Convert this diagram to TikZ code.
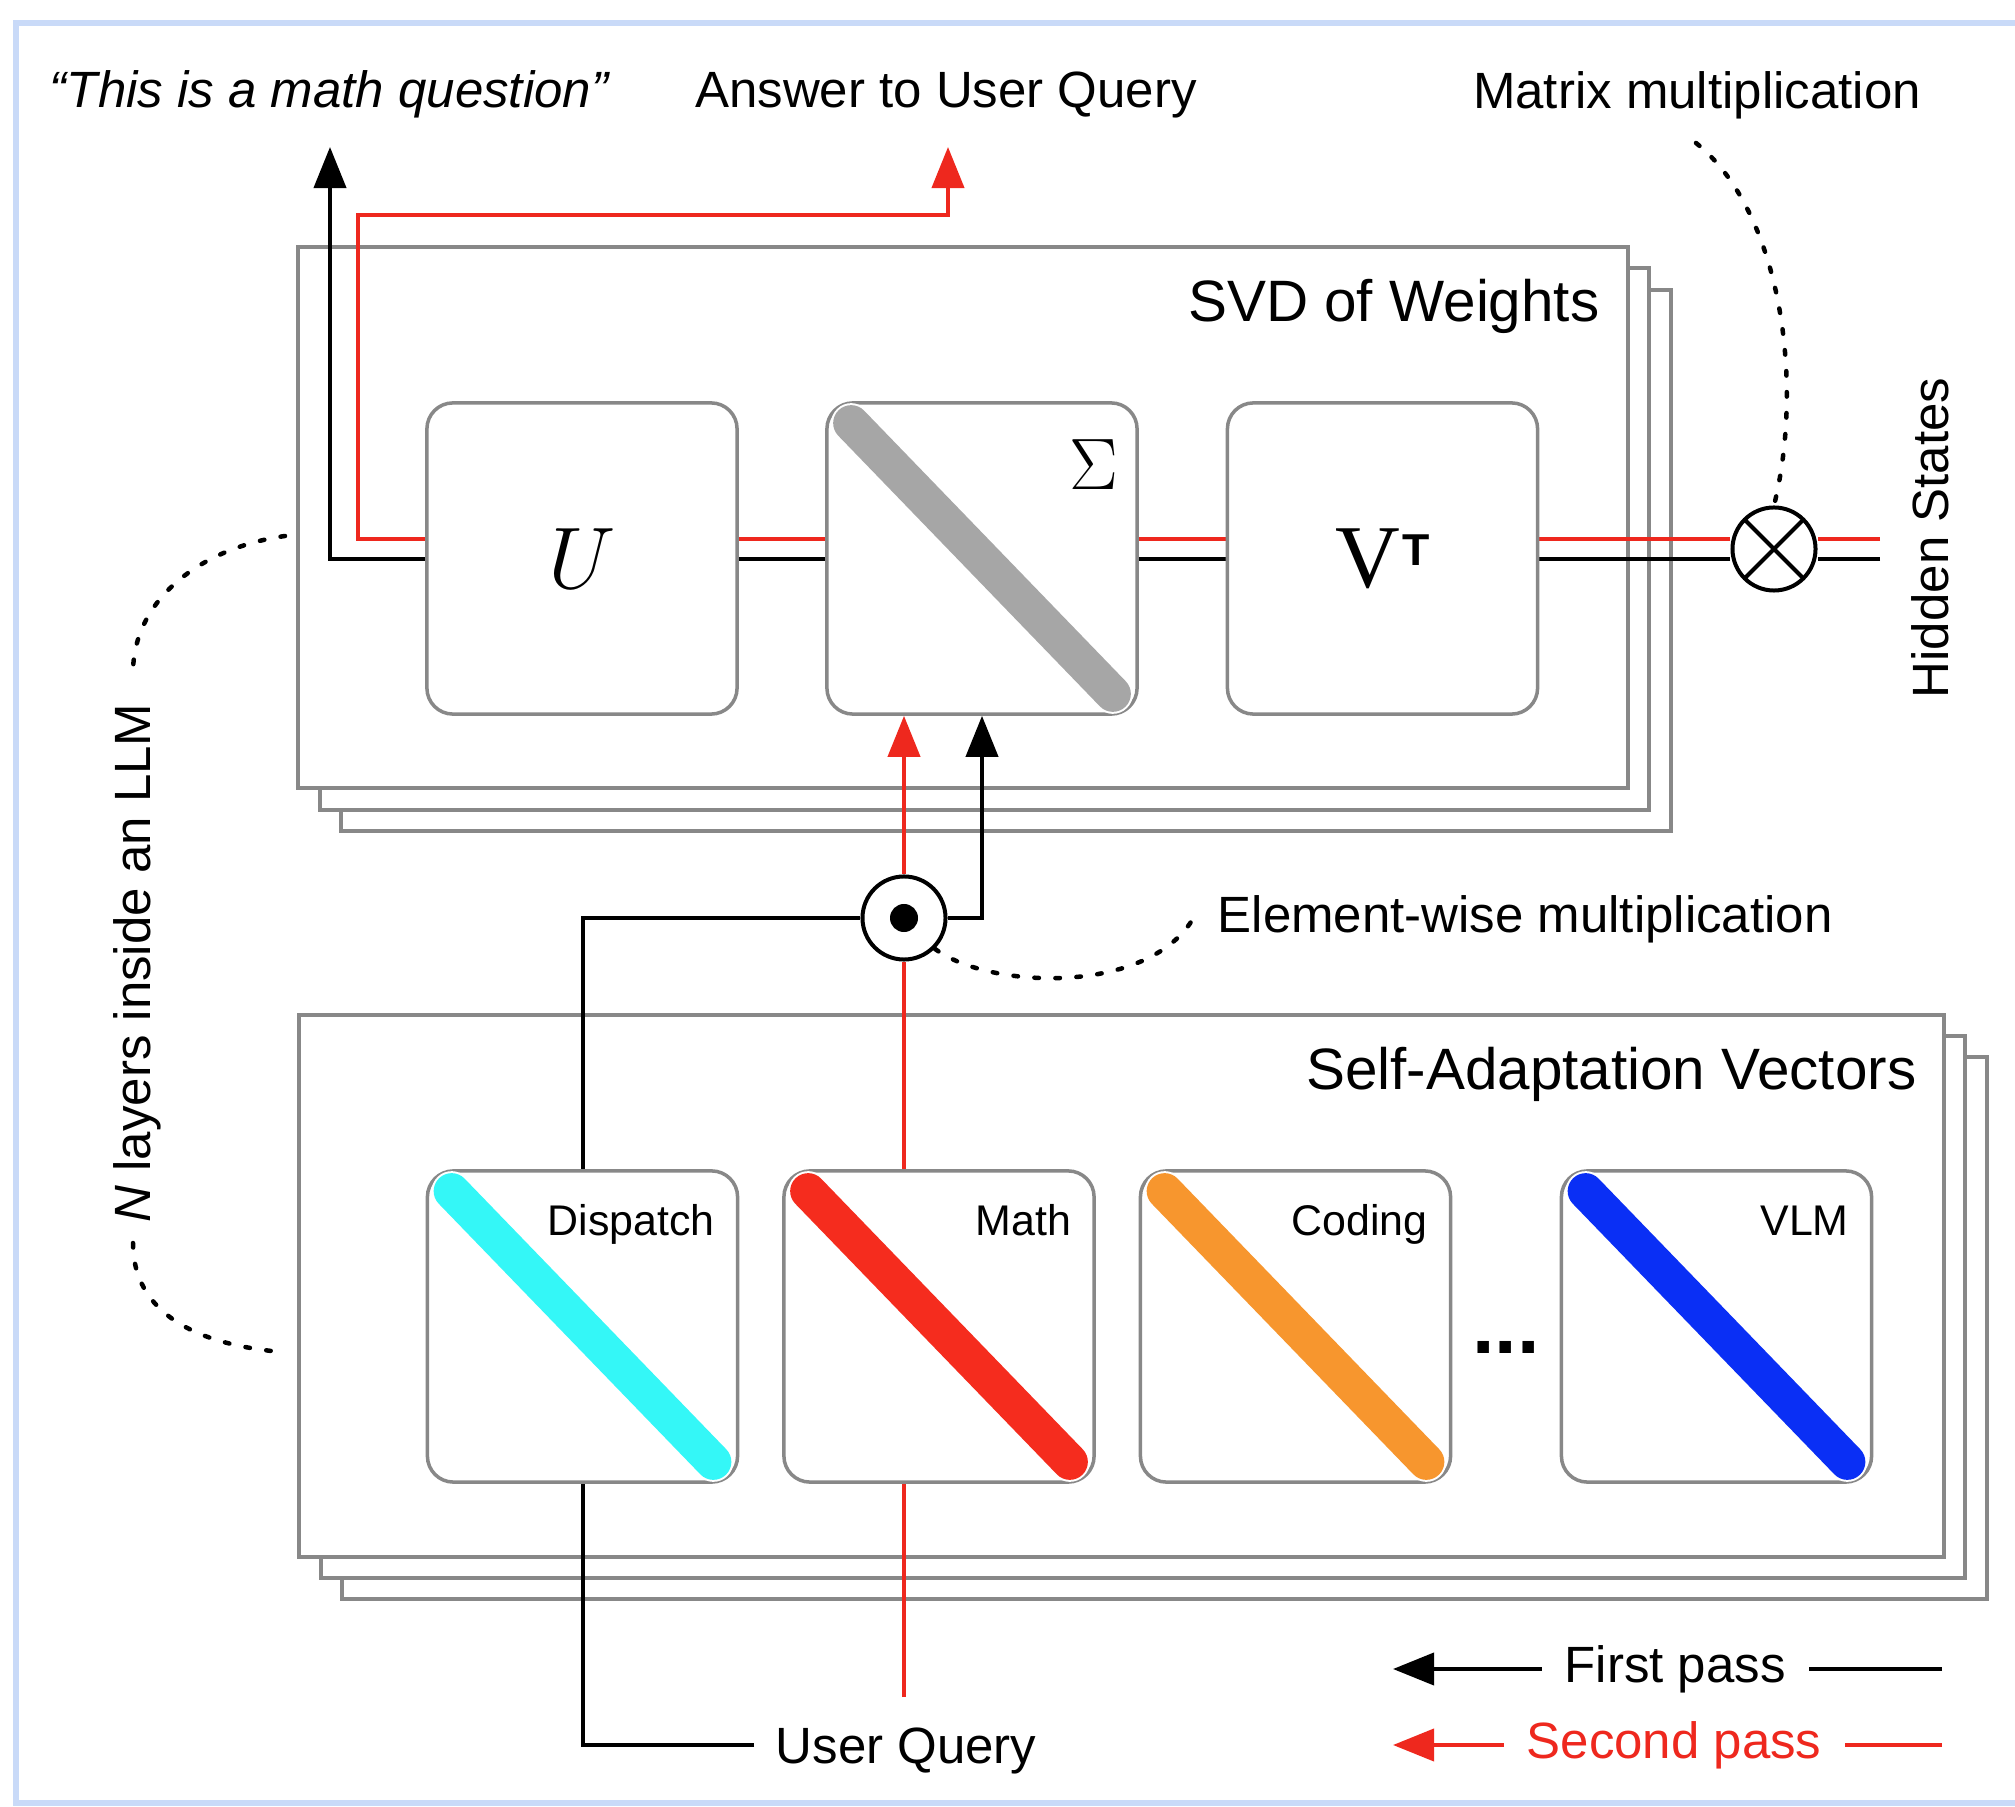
\documentclass[tikz,border=0pt]{standalone}
\usepackage[no-math]{fontspec}
\setmainfont{Liberation Sans}
\newfontfamily\serifvee{Liberation Serif}
\usetikzlibrary{arrows.meta,calc}
\pgfdeclarelayer{stack}
\pgfdeclarelayer{conn}
\pgfsetlayers{stack,conn,main}
\definecolor{frameblue}{RGB}{201,218,248}
\definecolor{boxgray}{RGB}{136,136,136}
\definecolor{passred}{RGB}{238,40,30}
\definecolor{barcyan}{RGB}{52,247,247}
\definecolor{barred}{RGB}{245,44,30}
\definecolor{barorange}{RGB}{247,150,46}
\definecolor{barblue}{RGB}{10,47,245}
\definecolor{bargray}{RGB}{166,166,166}
\begin{document}
\begin{tikzpicture}[x=0.01cm,y=-0.01cm,
  stackbox/.style={draw=boxgray, line width=0.04cm, fill=white, inner sep=0pt, anchor=north west},
  mbox/.style={draw=boxgray, line width=0.035cm, fill=white, rounded corners=0.26cm, minimum width=3.1cm, minimum height=3.11cm, inner sep=0pt},
  blk/.style={line width=0.04cm, draw=black},
  rd/.style={line width=0.04cm, draw=passred},
  passarrow/.style={-{Triangle[length=0.41cm,width=0.32cm]}},
  lbl/.style={font=\fontsize{14.5}{17}\selectfont, inner sep=0pt},
  ttl/.style={font=\fontsize{16.6}{20}\selectfont, inner sep=0pt, anchor=base east},
  vlbl/.style={font=\fontsize{12.2}{14}\selectfont, inner sep=0pt, anchor=base east},
  dotline/.style={line width=0.045cm, dash pattern=on 0.045cm off 0.165cm, line cap=round},
  diagbar/.style={line width=0.36cm, line cap=round},
  opcircle/.style={circle, draw=black, line width=0.04cm, fill=white, minimum size=0.83cm, inner sep=0pt}
]
\useasboundingbox (0,0) rectangle (2015,1807);

% ---------- stacked layer boxes ----------
\begin{pgfonlayer}{stack}
  \draw[frameblue, line width=0.06cm] (2015,23) -- (16,23) -- (16,1803) -- (2015,1803);
  \node[stackbox, minimum width=13.29cm, minimum height=5.41cm] (svd3) at (339,288) {};
  \node[stackbox, minimum width=13.29cm, minimum height=5.41cm] (svd2) at (317.5,266.5) {};
  \node[stackbox, minimum width=13.29cm, minimum height=5.41cm] (svd) at (296,245) {};
  \node[stackbox, minimum width=16.44cm, minimum height=5.42cm] (sav3) at (340,1055) {};
  \node[stackbox, minimum width=16.44cm, minimum height=5.42cm] (sav2) at (318.5,1034) {};
  \node[stackbox, minimum width=16.44cm, minimum height=5.42cm] (sav) at (297,1013) {};
\end{pgfonlayer}

% ---------- matrix boxes ----------
\node[mbox, font=\fontsize{25}{30}\selectfont] (U) at (582,558.5) {$U$};
\node[mbox] (S) at (982,558.5) {};
\node[mbox, font=\fontsize{25.5}{30}\selectfont] (V) at (1382.5,558.5)
  {{\serifvee V}\hspace{0.02cm}\raisebox{0.22cm}{\fontsize{12.7}{13}\selectfont\bfseries T}};

\node[mbox] (disp) at (582.5,1326.5) {};
\node[mbox] (math) at (939,1326.5) {};
\node[mbox] (cod) at (1295.5,1326.5) {};
\node[mbox] (vlm) at (1716.5,1326.5) {};

\foreach \b/\c in {S/bargray, disp/barcyan, math/barred, cod/barorange, vlm/barblue}{
  \draw[white, line width=0.40cm, line cap=round] ($(\b.north west)+(26,22)$) -- ($(\b.south east)+(-26,-22)$);
  \draw[\c, diagbar] ($(\b.north west)+(26,22)$) -- ($(\b.south east)+(-26,-22)$);
}

\node[font=\fontsize{21}{24}\selectfont, inner sep=0pt] (sigt) at ($(S.north east)+(-45,63)$) {$\Sigma$};
\node[vlbl] (dispt) at ($(disp.north east)+(-24,66)$) {Dispatch};
\node[vlbl] (matht) at ($(math.north east)+(-24,66)$) {Math};
\node[vlbl] (codt) at ($(cod.north east)+(-24,66)$) {Coding};
\node[vlbl] (vlmt) at ($(vlm.north east)+(-24,66)$) {VLM};
\node[font=\fontsize{23}{23}\selectfont\bfseries, anchor=base, inner sep=0pt] (dots) at (1506,1353) {...};

% ---------- operators ----------
\node[opcircle, path picture={
  \draw[line width=0.04cm] (path picture bounding box.north west) -- (path picture bounding box.south east)
        (path picture bounding box.north east) -- (path picture bounding box.south west);}] (mm) at (1774,549) {};
\node[opcircle] (ew) at (904,918) {};
\fill (ew.center) circle[radius=0.14cm];

% ---------- labels ----------
\node[ttl] (svdt) at (1600,322) {SVD of Weights};
\node[ttl] (savt) at (1917,1090) {Self-Adaptation Vectors};
\node[lbl, anchor=base] (q) at (330,108) {\textit{“This is a math question”}};
\node[lbl, anchor=base] (ans) at (946,108) {Answer to User Query};
\node[lbl, anchor=base] (mml) at (1697,109) {Matrix multiplication};
\node[lbl, rotate=90, anchor=base] (hid) at (1948,538) {Hidden States};
\node[lbl, rotate=90, anchor=base] (nl) at (150,963) {\textit{N} layers inside an LLM};
\node[lbl, anchor=base west] (ewl) at (1217,933) {Element-wise multiplication};
\node[lbl, anchor=base west, inner xsep=0.21cm, text height=0.365cm, text depth=0pt] (uq) at (754,1763) {User Query};

% ---------- connectors ----------
\begin{pgfonlayer}{conn}
  \coordinate (hsR) at (1880,539);
  \coordinate (hsB) at (1880,559);
  \coordinate (qtip) at (330,147);
  \coordinate (atip) at (948,147);
  \coordinate (rturn) at (358,215);
  % first pass (black) through the SVD
  \draw[blk] (hsB) -- (mm.east |- hsB);
  \draw[blk] (mm.west |- hsB) -- (V.east |- hsB);
  \draw[blk] (V.west |- hsB) -- (S.east |- hsB);
  \draw[blk] (S.west |- hsB) -- (U.east |- hsB);
  \draw[blk, passarrow] (U.west |- hsB) -| (qtip);
  % second pass (red) through the SVD
  \draw[rd] (hsR) -- (mm.east |- hsR);
  \draw[rd] (mm.west |- hsR) -- (V.east |- hsR);
  \draw[rd] (V.west |- hsR) -- (S.east |- hsR);
  \draw[rd] (S.west |- hsR) -- (U.east |- hsR);
  \draw[rd, passarrow] (U.west |- hsR) -| (rturn) -| (atip);
  % self-adaptation paths
  \coordinate (uqR) at (904,1697);
  \draw[blk] (uq.west) -| (disp.south);
  \draw[blk] (disp.north) |- (ew.west);
  \draw[blk, passarrow] (ew.east) -| (S.south);
  \draw[rd] (uqR) -- (math.south -| uqR);
  \draw[rd] (math.north -| uqR) -- (ew.south);
  \draw[rd, passarrow] (ew.north) -- (S.south -| ew.north);
  % dotted annotations
  \coordinate (mmlend) at (1696,143);
  \draw[dotline] (mmlend) .. controls (1780,210) and (1805,380) .. (mm.north);
  \coordinate (nlA) at (285,536);
  \coordinate (nlB) at (133,673);
  \coordinate (nlC) at (133,1243);
  \coordinate (nlD) at (282,1352);
  \draw[dotline] (nlA) .. controls (200,548) and (133,600) .. (nlB);
  \draw[dotline] (nlC) .. controls (133,1315) and (200,1345) .. (nlD);
  \coordinate (ewlend) at (1194,917);
  \draw[dotline] (ew.south east) .. controls (990,990) and (1150,995) .. (ewlend);
  % legend
  \coordinate (l1s) at (1942,1669);
  \coordinate (l1e) at (1393,1669);
  \draw[blk, passarrow] (l1s) -- node[lbl, pos=0.486, fill=white, inner xsep=0.23cm, inner ysep=0.04cm] (fp) {First pass} (l1e);
  \coordinate (l2s) at (1942,1745);
  \coordinate (l2e) at (1393,1745);
  \draw[rd, passarrow] (l2s) -- node[lbl, pos=0.488, fill=white, text=passred, inner xsep=0.23cm, inner ysep=0.04cm] (sp) {Second pass} (l2e);
\end{pgfonlayer}
\end{tikzpicture}
\end{document}
